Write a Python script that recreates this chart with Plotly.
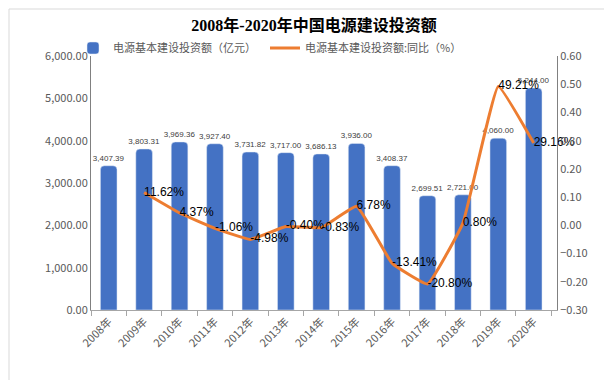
import plotly.graph_objects as go

years = ["2008年", "2009年", "2010年", "2011年", "2012年", "2013年", "2014年",
         "2015年", "2016年", "2017年", "2018年", "2019年", "2020年"]
invest = [3407.39, 3803.31, 3969.36, 3927.40, 3731.82, 3717.00, 3686.13,
          3936.00, 3408.37, 2699.51, 2721.00, 4060.00, 5244.00]
yoy_years = years[1:]
yoy = [0.1162, 0.0437, -0.0106, -0.0498, -0.0040, -0.0083, 0.0678,
       -0.1341, -0.2080, 0.0080, 0.4921, 0.2916]

bar_name = "电源基本建设投资额（亿元）"
line_name = "电源基本建设投资额:同比（%）"
title = "2008年-2020年中国电源建设投资额"

W, H = 612, 380
ml, mr, mt, mb = 83, 63, 48, 78
pw, ph = W - ml - mr, H - mt - mb

cjk = "Noto Sans CJK SC, Liberation Sans, sans-serif"
gray = "#595959"

fig = go.Figure()
fig.add_trace(go.Bar(
    x=years, y=invest, name=bar_name,
    marker=dict(color="#4472C4", cornerradius=4),
    text=[f"{v:,.2f}" for v in invest],
    textposition="outside",
    constraintext="none",
    outsidetextfont=dict(size=8, color="#404040", family="Liberation Sans"),
    cliponaxis=False,
    yaxis="y",
))
fig.add_trace(go.Scatter(
    x=yoy_years, y=yoy, name=line_name,
    mode="lines+text",
    line=dict(color="#ED7D31", width=3, shape="spline", smoothing=0.3),
    text=[f"{v*100:.2f}%" for v in yoy],
    textposition="middle right",
    textfont=dict(size=12, color="#000000", family="Liberation Sans"),
    cliponaxis=False,
    yaxis="y2",
))

fig.update_layout(
    width=W, height=H,
    margin=dict(l=ml, r=mr, t=mt, b=mb),
    paper_bgcolor="white", plot_bgcolor="white",
    font=dict(family=cjk, color=gray, size=11),
    title=dict(text=f"<b>{title}</b>", x=0.5, xanchor="center",
               y=1 - 17 / H, yanchor="middle",
               font=dict(family="Liberation Serif, Noto Sans CJK SC, serif",
                         size=16, color="#000000")),
    bargap=0.53,
    showlegend=True,
    legend=dict(orientation="h", x=-18 / pw, xanchor="left",
                y=(ph - (40 - mt)) / ph, yanchor="middle",
                font=dict(size=11, color=gray),
                entrywidth=147, entrywidthmode="pixels",
                bgcolor="rgba(0,0,0,0)"),
    xaxis=dict(type="category", showline=True, linecolor="#A6A6A6",
               ticks="outside", tickson="boundaries", ticklen=5,
               tickcolor="#A6A6A6", tickangle=-45,
               tickfont=dict(size=11, color=gray), showgrid=False),
    yaxis=dict(range=[0, 6000], dtick=1000, tickformat=",.2f",
               showline=True, linecolor="#808080", showgrid=False,
               zeroline=False, ticks="", tickfont=dict(size=11, color=gray)),
    yaxis2=dict(range=[-0.3, 0.6], dtick=0.1, tickformat=".2f",
                overlaying="y", side="right", showline=True,
                linecolor="#808080", showgrid=False, zeroline=False,
                tickfont=dict(size=11, color=gray)),
    shapes=[dict(type="rect", xref="paper", yref="paper",
                 x0=(1 - ml) / pw, x1=(W - 2 - ml) / pw,
                 y0=(ph + mt - (H - 2)) / ph, y1=(ph + mt - 1) / ph,
                 line=dict(color="#D9D9D9", width=1), layer="below")],
)

fig.write_html("out.html")
